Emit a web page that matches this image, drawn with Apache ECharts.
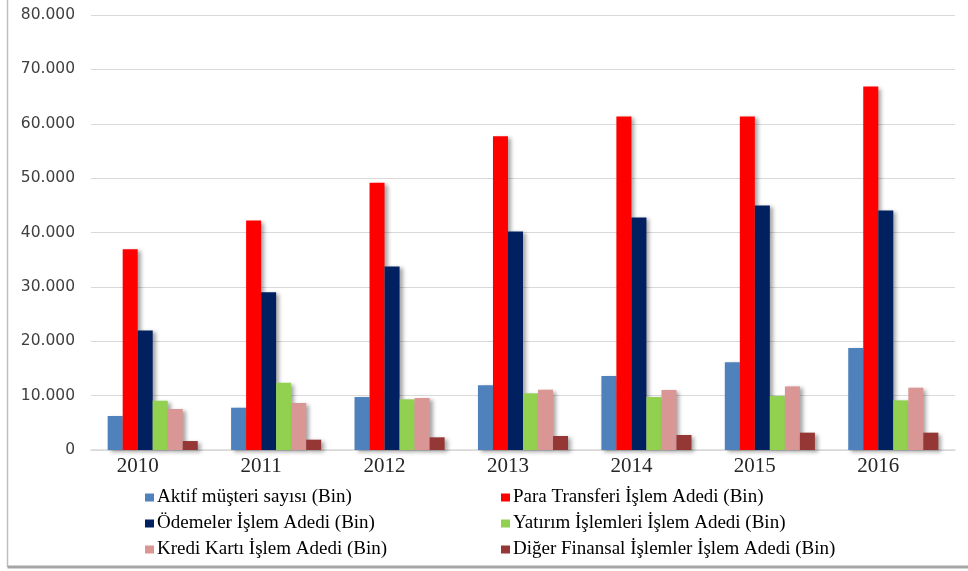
<!DOCTYPE html>
<html>
<head>
<meta charset="UTF-8">
<title>bar</title>
<script type="text/javascript" src="https://cdn.jsdelivr.net/npm/echarts@6/dist/echarts.min.js"></script>
<style>
body { margin: 0; background: #fff; }
</style>
</head>
<body>
<div id="main" style="width: 968px; height: 571px"></div>

<script type="text/javascript">
	// yıllar
	var years = ['2010', '2011', '2012', '2013', '2014', '2015', '2016'];

	// seri değerleri (Bin)
	var aktif    = [6250, 7780, 9740, 11890, 13600, 16120, 18750];
	var para     = [36900, 42200, 49140, 57700, 61340, 61340, 66850];
	var odemeler = [22000, 29000, 33770, 40200, 42770, 44980, 44060];
	var yatirim  = [9060, 12370, 9320, 10420, 9740, 9930, 9130];
	var kredi    = [7540, 8640, 9560, 11090, 11030, 11700, 11460];
	var diger    = [1650, 1900, 2330, 2570, 2760, 3190, 3190];

	var names = [
		'Aktif müşteri sayısı (Bin)',
		'Para Transferi İşlem Adedi (Bin)',
		'Ödemeler İşlem Adedi (Bin)',
		'Yatırım İşlemleri İşlem Adedi (Bin)',
		'Kredi Kartı İşlem Adedi (Bin)',
		'Diğer Finansal İşlemler İşlem Adedi (Bin)'
	];
	var values = [aktif, para, odemeler, yatirim, kredi, diger];
	var colors = ['#4F81BD', '#FF0000', '#002060', '#92D050', '#D99694', '#953735'];

	var mychart = echarts.init(document.getElementById('main'));

	var series = [];
	for (var i = 0; i < names.length; i++) {
		series.push({
			name: names[i],
			type: 'bar',
			data: values[i],
			barGap: '0%',
			barCategoryGap: '27%',
			itemStyle: {
				color: colors[i],
				shadowColor: 'rgba(0,0,0,0.35)',
				shadowBlur: 4,
				shadowOffsetX: 3,
				shadowOffsetY: 2
			}
		});
	}

	var legendText = {
		fontFamily: 'Liberation Serif',
		fontSize: 19,
		color: '#000',
		padding: [0, 0, 0, -2]
	};

	var option = {
		animation: false,
		color: colors,
		grid: {
			left: 91,
			right: 13,
			top: 15,
			bottom: 121
		},
		legend: [{
			data: [names[0], names[2], names[4]],
			orient: 'vertical',
			left: 140,
			top: 483,
			itemWidth: 9,
			itemHeight: 8,
			itemGap: 7,
			icon: 'rect',
			textStyle: legendText
		}, {
			data: [names[1], names[3], names[5]],
			orient: 'vertical',
			left: 496,
			top: 483,
			itemWidth: 9,
			itemHeight: 8,
			itemGap: 7,
			icon: 'rect',
			textStyle: legendText
		}],
		xAxis: {
			type: 'category',
			data: years,
			axisLine: { lineStyle: { color: '#d9d9d9', width: 1.5 } },
			axisTick: { show: false },
			axisLabel: {
				fontFamily: 'Liberation Serif',
				fontSize: 21,
				color: '#262626',
				margin: 6,
				padding: [0, 30, 0, 0]
			}
		},
		yAxis: {
			type: 'value',
			min: 0,
			max: 80000,
			interval: 10000,
			axisLine: { show: false },
			axisTick: { show: false },
			splitLine: { lineStyle: { color: '#d9d9d9', width: 1.2 } },
			axisLabel: {
				fontFamily: 'DejaVu Sans',
				fontSize: 15.5,
				color: '#404040',
				margin: 16,
				formatter: function (v) {
					return v === 0 ? '0' : (v / 1000) + '.000';
				}
			}
		},
		graphic: [{
			type: 'line',
			shape: { x1: 7.5, y1: 0, x2: 7.5, y2: 567 },
			style: { stroke: '#bfbfbf', lineWidth: 1.5 }
		}, {
			type: 'line',
			shape: { x1: 7.5, y1: 567, x2: 968, y2: 567 },
			style: { stroke: '#a6a6a6', lineWidth: 3 }
		}],
		series: series
	};

	mychart.setOption(option);
</script>
</body>
</html>
